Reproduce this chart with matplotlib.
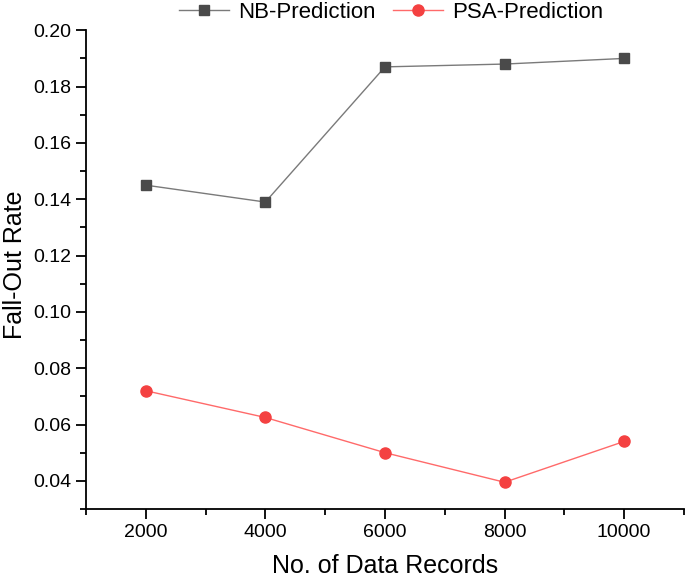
import numpy as np
import matplotlib.pyplot as plt
from matplotlib.ticker import MultipleLocator

plt.rcParams['font.family'] = ['Liberation Sans', 'DejaVu Sans']

records = [2000, 4000, 6000, 8000, 10000]
nb_pred = [0.145, 0.139, 0.187, 0.188, 0.190]
psa_pred = [0.072, 0.0625, 0.050, 0.0395, 0.054]

fig = plt.figure(figsize=(6.85, 5.82), dpi=100)
ax = fig.add_axes([0.1255, 0.1254, 0.873, 0.8226])

ax.plot(records, nb_pred, color='#7a7a7a', lw=1, marker='s', ms=7,
        mfc='#4a4a4a', mec='#4a4a4a', label='NB-Prediction')
ax.plot(records, psa_pred, color='#ff6a6a', lw=1, marker='o', ms=8,
        mfc='#f44141', mec='#f44141', label='PSA-Prediction')

ax.set_xlim(1000, 11000)
ax.set_ylim(0.03, 0.20)
ax.set_xticks(records)
ax.set_yticks(np.arange(0.04, 0.201, 0.02))
ax.yaxis.set_major_formatter(plt.FuncFormatter(lambda v, p: f'{v:.2f}'))
ax.xaxis.set_minor_locator(MultipleLocator(1000))
ax.yaxis.set_minor_locator(MultipleLocator(0.01))
ax.tick_params(which='major', direction='out', length=7, width=1.3, labelsize=14)
ax.tick_params(which='minor', direction='out', length=4, width=1.3)
for s in ['top', 'right']:
    ax.spines[s].set_visible(False)
for s in ['left', 'bottom']:
    ax.spines[s].set_linewidth(1.3)

ax.set_xlabel('No. of Data Records', fontsize=18, labelpad=10)
ax.set_ylabel('Fall-Out Rate', fontsize=18)
ax.yaxis.set_label_coords(-0.098, 0.51)
fig.legend(*ax.get_legend_handles_labels(), loc='center', bbox_to_anchor=(0.571, 0.979),
           ncol=2, frameon=False, fontsize=16, handlelength=2.25, handletextpad=0.4,
           columnspacing=0.8, borderaxespad=0, borderpad=0)

fig.savefig('out.png', dpi=100)
